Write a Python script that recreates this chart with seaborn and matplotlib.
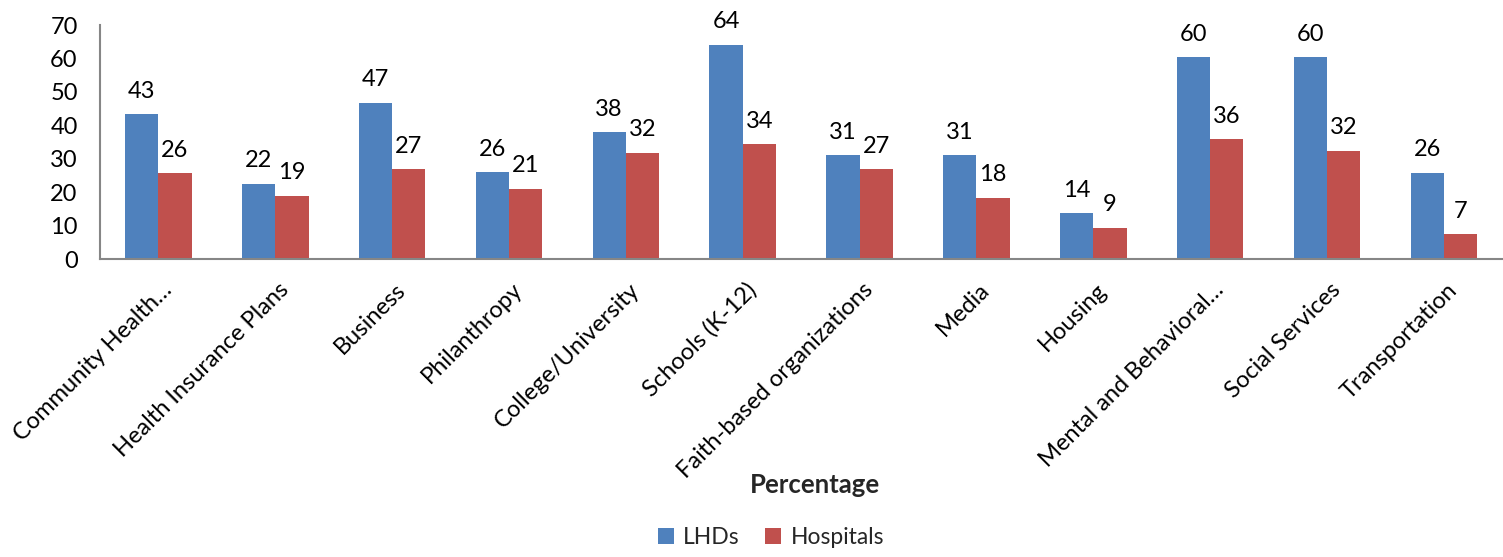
import matplotlib
matplotlib.use("Agg")
import matplotlib.pyplot as plt
import matplotlib.transforms as mtransforms
import seaborn as sns
import pandas as pd

categories = ["Community Health…", "Health Insurance Plans", "Business", "Philanthropy",
              "College/University", "Schools (K-12)", "Faith-based organizations", "Media",
              "Housing", "Mental and Behavioral…", "Social Services", "Transportation"]
lhds = [43.3, 22.5, 46.7, 26.0, 38.0, 64.1, 31.0, 31.1, 13.7, 60.4, 60.4, 25.8]
hospitals = [25.7, 18.9, 26.9, 21.0, 31.8, 34.4, 26.9, 18.3, 9.4, 35.8, 32.4, 7.4]
lhds_labels = ["43", "22", "47", "26", "38", "64", "31", "31", "14", "60", "60", "26"]
hosp_labels = ["26", "19", "27", "21", "32", "34", "27", "18", "9", "36", "32", "7"]
series = ["LHDs", "Hospitals"]
yticks = [0, 10, 20, 30, 40, 50, 60, 70]

sns.set_theme(style="white")
plt.rcParams['font.family'] = ['Lato', 'DejaVu Sans']

df = pd.DataFrame({
    "category": categories * 2,
    "value": lhds + hospitals,
    "series": [series[0]] * len(categories) + [series[1]] * len(categories),
})

fig = plt.figure(figsize=(15.03, 5.57), dpi=100)
ax = fig.add_axes([0.0665, 0.535, 0.933, 0.42])
palette = {"LHDs": "#4F81BD", "Hospitals": "#C0504D"}
sns.barplot(data=df, x="category", y="value", hue="series", hue_order=series,
            order=categories, palette=palette, width=0.57, saturation=1,
            edgecolor="none", ax=ax, legend=True)

for cont, labs in zip(ax.containers, [lhds_labels, hosp_labels]):
    ax.bar_label(cont, labels=labs, padding=9, fontsize=17, color="black")

ax.set_ylim(0, 70)
ax.set_yticks(yticks)
ax.set_xlim(-0.5, len(categories) - 0.5)
ax.tick_params(axis="both", length=0, labelsize=17, colors="black")
ax.tick_params(axis="y", pad=16)
ax.set_xlabel("")
ax.set_ylabel("")
ax.tick_params(axis="x", pad=14)
shift = mtransforms.ScaledTranslation(10 / 100, -8 / 100, fig.dpi_scale_trans)
for lab in ax.get_xticklabels():
    lab.set_rotation(45)
    lab.set_ha("right")
    lab.set_va("center")
    lab.set_rotation_mode("anchor")
    lab.set_transform(lab.get_transform() + shift)
for s in ["top", "right"]:
    ax.spines[s].set_visible(False)
for s in ["left", "bottom"]:
    ax.spines[s].set_color("#868686")
    ax.spines[s].set_linewidth(1.5)

fig.text(0.542, 0.129, "Percentage", fontsize=18.5, fontweight="bold", ha="center", va="center")

handles, labels = ax.get_legend_handles_labels()
ax.legend_.remove()
fig.legend(handles, labels, loc="center", bbox_to_anchor=(0.513, 0.035), ncol=2,
           frameon=False, fontsize=16.5, handlelength=0.7, handleheight=0.7,
           handletextpad=0.4, columnspacing=1.1)

fig.savefig("out.png", dpi=100)
